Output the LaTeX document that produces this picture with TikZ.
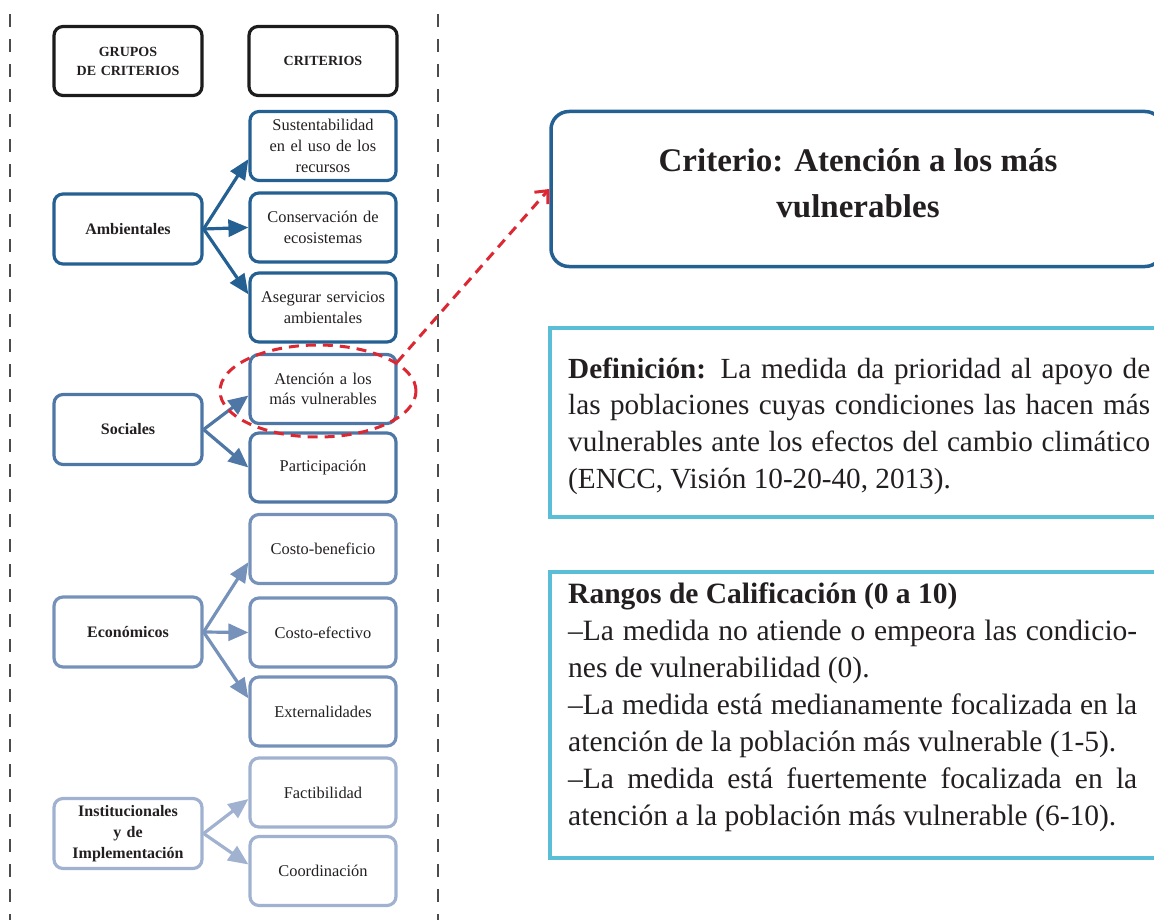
\documentclass[tikz,border=0pt]{standalone}
\usepackage{fontspec}
\setmainfont{Liberation Serif}
\usetikzlibrary{shapes.geometric,arrows.meta}
\definecolor{txt}{HTML}{231F20}
\definecolor{hdr}{HTML}{1C1C1C}
\definecolor{amb}{HTML}{256092}
\definecolor{soc}{HTML}{4F77A6}
\definecolor{eco}{HTML}{7692BA}
\definecolor{ins}{HTML}{A0B2D0}
\definecolor{cyanb}{HTML}{5ABED6}
\definecolor{redd}{HTML}{DC2832}
\tikzset{crit/.style={rectangle,rounded corners=9pt,draw,line width=3.2pt,text=txt,minimum width=146pt,minimum height=69pt,align=center,text width=132pt,inner sep=0pt,font=\fontsize{16.4}{20.7}\selectfont}}
\tikzset{grp/.style={crit,minimum width=148pt,minimum height=70pt,font=\bfseries\fontsize{16}{20.8}\selectfont}}
\tikzset{hdrbox/.style={crit,draw=hdr,minimum width=148pt,font=\bfseries\fontsize{14}{19}\selectfont}}
\tikzset{arr/.style={line width=3.2pt,-{Triangle[length=20pt,width=17pt]}}}
\tikzset{sepline/.style={draw=black!70,line width=1.2pt,dash pattern=on 13pt off 12pt}}
\tikzset{infobox/.style={rectangle,draw=cyanb,line width=4pt,minimum width=623pt}}
\tikzset{bodytext/.style={inner sep=0pt,anchor=base west,align=justify,text=txt}}

\begin{document}
\begin{tikzpicture}[x=1pt,y=-1pt]
    \useasboundingbox (0,0) rectangle (1154,920);
    \draw[sepline] (10,14) -- (10,920);
    \draw[sepline] (438,14) -- (438,920);

    % headers
    \node[hdrbox] (hg) at (128,61) {GRUPOS\\DE CRITERIOS};
    \node[hdrbox] (hc) at (323,61) {CRITERIOS};

    % grupos
    \node[grp,draw=amb] (amb) at (128,229) {Ambientales};
    \node[grp,draw=soc] (soc) at (128,429.5) {Sociales};
    \node[grp,draw=eco] (eco) at (128,632) {Económicos};
    \node[grp,draw=ins] (ins) at (128,833.5) {Institucionales\\y de\\Implementación};

    % criterios
    \node[crit,draw=amb] (c1) at (323,146) {Sustentabilidad\\en el uso de los\\recursos};
    \node[crit,draw=amb] (c2) at (323,227.5) {Conservación de\\ecosistemas};
    \node[crit,draw=amb] (c3) at (323,307.5) {Asegurar servicios\\ambientales};
    \node[crit,draw=soc] (c4) at (323,389) {Atención a los\\más vulnerables};
    \node[crit,draw=soc] (c5) at (323,467.5) {Participación};
    \node[crit,draw=eco] (c6) at (323,549) {Costo-beneficio};
    \node[crit,draw=eco] (c7) at (323,632.5) {Costo-efectivo};
    \node[crit,draw=eco] (c8) at (323,711.5) {Externalidades};
    \node[crit,draw=ins] (c9) at (323,792.5) {Factibilidad};
    \node[crit,draw=ins] (c10) at (323,871) {Coordinación};

    \draw [arr,amb] (amb.east) to [] (c1.190);
    \draw [arr,amb] (amb.east) to [] (c2.west);
    \draw [arr,amb] (amb.east) to [] (c3.170);
    \draw [arr,soc] (soc.east) to [] (c4.185);
    \draw [arr,soc] (soc.east) to [] (c5.west);
    \draw [arr,eco] (eco.east) to [] (c6.190);
    \draw [arr,eco] (eco.east) to [] (c7.west);
    \draw [arr,eco] (eco.east) to [] (c8.170);
    \draw [arr,ins] (ins.east) to [] (c9.185);
    \draw [arr,ins] (ins.east) to [] (c10.175);

    % right side
    \node[rectangle,rounded corners=18pt,draw=amb,line width=3.5pt,minimum width=612pt,minimum height=155pt] (crit) at (857,189) {};
    \node[anchor=base,align=center,text=txt,font=\bfseries\fontsize{33}{46}\selectfont] (critt) at (858,218) {Criterio: Atención a los más\\vulnerables};

    \node[infobox,minimum height=189pt] (def) at (861.5,422) {};
    \node[bodytext,text width=582pt,font=\fontsize{29.2}{36.8}\selectfont] (deft) at (568,378)
        {\textbf{Definición:} La medida da prioridad al apoyo de\linebreak las poblaciones cuyas condiciones las hacen más\linebreak vulnerables ante los efectos del cambio climático\linebreak (ENCC, Visión 10-20-40, 2013).};

    \node[infobox,minimum height=286pt] (rng) at (861.5,715) {};
    \node[bodytext,text width=569pt,font=\fontsize{29.5}{37}\selectfont] (rngt) at (568,603)
        {\textbf{Rangos de Calificación (0 a 10)}\\
         –La medida no atiende o empeora las condicio-\linebreak nes de vulnerabilidad (0).\\
         –La medida está medianamente focalizada en la\linebreak atención de la población más vulnerable (1-5).\\
         –La medida está fuertemente focalizada en la\linebreak atención a la población más vulnerable (6-10).};

    % seleccion
    \node[ellipse,draw=redd,line width=3pt,dash pattern=on 10pt off 7pt,minimum width=196pt,minimum height=92pt] (ring) at (318,391) {};
    \draw [redd,line width=3pt,dash pattern=on 10pt off 7pt,-{Straight Barb[length=10pt,width=18pt]}] (ring.20) to [] (crit.west);
\end{tikzpicture}
\end{document}
